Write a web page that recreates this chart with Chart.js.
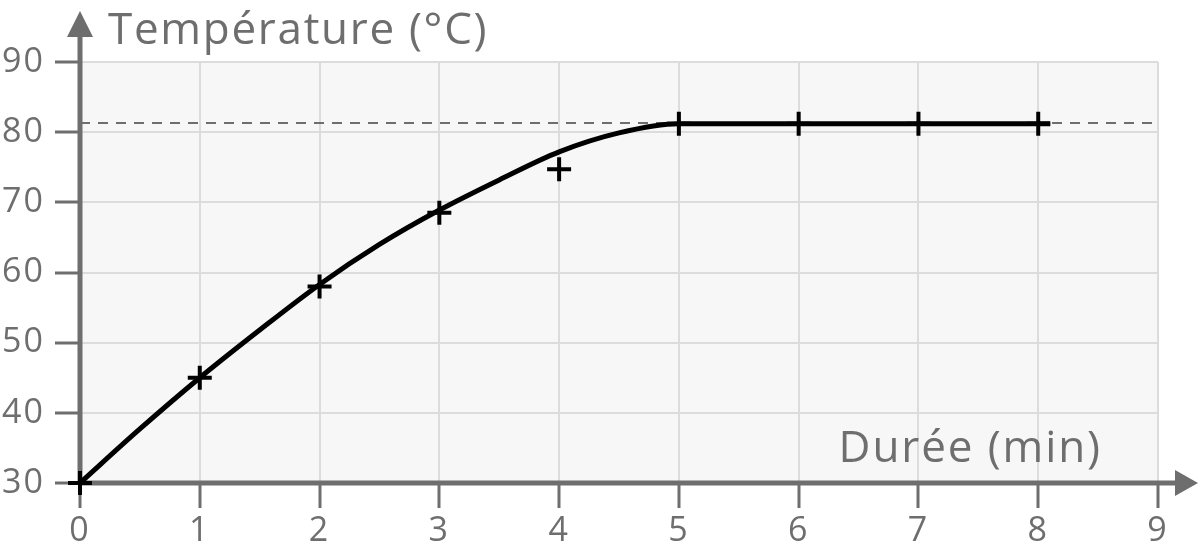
<!DOCTYPE html>
<html>
<head>
<meta charset="utf-8">
<script src="https://cdn.jsdelivr.net/npm/chart.js@4"></script>
<style>
  html, body { margin: 0; padding: 0; background: #fff; }
  #wrap { width: 1200px; height: 556px; position: relative; }
</style>
</head>
<body>
<div id="wrap"><canvas id="tempChart"></canvas></div>
<script>
// measured points (crosses)
const durees = [0, 1, 2, 3, 4, 5, 6, 7, 8];
const temperatures = [30, 45, 58, 68.5, 74.7, 81.2, 81.2, 81.2, 81.2];

// smooth trend curve
const courbeX = [0, 0.5, 1, 1.5, 2, 2.5, 3, 3.5, 4, 4.5, 5, 8.1];
const courbeY = [30, 37.7, 45, 51.8, 58.3, 64, 68.9, 73.2, 77.2, 79.9, 81.2, 81.2];

// plateau (dashed)
const plateauX = [0, 9];
const plateauY = [81.3, 81.3];

const xTicks = [0, 1, 2, 3, 4, 5, 6, 7, 8, 9];
const yTicks = [30, 40, 50, 60, 70, 80, 90];

const GREY = '#6e6e6e';
const FONT = '"Open Sans", "Noto Sans", sans-serif';

const pts = (xs, ys) => xs.map((x, i) => ({ x: x, y: ys[i] }));

// plot background + axes with arrows
const axesPlugin = {
  id: 'axes',
  beforeDraw(chart) {
    const { ctx, chartArea: a } = chart;
    ctx.letterSpacing = '2px'; // the source font is a bit wider
    ctx.save();
    ctx.fillStyle = '#f7f7f7';
    ctx.fillRect(a.left, a.top, a.right - a.left, a.bottom - a.top);
    ctx.restore();
  },
  beforeDatasetsDraw(chart) {
    const { ctx, chartArea: a } = chart;
    ctx.save();
    ctx.strokeStyle = GREY;
    ctx.fillStyle = GREY;
    ctx.lineWidth = 5;
    // y axis
    ctx.beginPath();
    ctx.moveTo(a.left, a.bottom + 2);
    ctx.lineTo(a.left, 36);
    ctx.stroke();
    ctx.beginPath();
    ctx.moveTo(a.left, 11);
    ctx.lineTo(a.left - 13, 37);
    ctx.lineTo(a.left + 13, 37);
    ctx.closePath();
    ctx.fill();
    // x axis
    ctx.beginPath();
    ctx.moveTo(a.left - 2, a.bottom);
    ctx.lineTo(1176, a.bottom);
    ctx.stroke();
    ctx.beginPath();
    ctx.moveTo(1198, a.bottom);
    ctx.lineTo(1175, a.bottom - 13);
    ctx.lineTo(1175, a.bottom + 13);
    ctx.closePath();
    ctx.fill();
    ctx.restore();
  },
  afterDraw(chart) {
    const { ctx } = chart;
    ctx.save();
    ctx.fillStyle = GREY;
    ctx.font = '44px ' + FONT;
    ctx.letterSpacing = '1.7px';
    ctx.textBaseline = 'alphabetic';
    ctx.textAlign = 'left';
    ctx.fillText('Température (°C)', 108, 44);
    ctx.textAlign = 'right';
    ctx.letterSpacing = '1.9px';
    ctx.fillText('Durée (min)', 1102, 462);
    ctx.restore();
  }
};

const ctx = document.getElementById('tempChart').getContext('2d');

new Chart(ctx, {
  type: 'scatter',
  data: {
    datasets: [
      {
        data: pts(plateauX, plateauY),
        showLine: true,
        borderColor: GREY,
        borderWidth: 2,
        borderDash: [10, 8],
        pointRadius: 0,
        order: 3
      },
      {
        data: pts(courbeX, courbeY),
        showLine: true,
        borderColor: '#000',
        borderWidth: 5,
        cubicInterpolationMode: 'monotone',
        pointRadius: 0,
        clip: false,
        order: 2
      },
      {
        data: pts(durees, temperatures),
        pointStyle: 'cross',
        pointRadius: 12,
        pointBorderWidth: 4,
        borderColor: '#000',
        backgroundColor: '#000',
        clip: false,
        order: 1
      }
    ]
  },
  options: {
    responsive: true,
    maintainAspectRatio: false,
    animation: false,
    events: [],
    layout: { padding: { top: 62, right: 42, left: 0, bottom: 0 } },
    plugins: {
      legend: { display: false },
      tooltip: { enabled: false }
    },
    scales: {
      x: {
        type: 'linear',
        min: 0,
        max: 9,
        afterFit: (s) => { s.height = 73; },
        afterBuildTicks: (s) => { s.ticks = xTicks.map(v => ({ value: v })); },
        border: { display: false },
        grid: {
          color: '#dcdcdc',
          lineWidth: 2,
          tickColor: GREY,
          tickWidth: 3,
          tickLength: 25
        },
        ticks: {
          color: GREY,
          font: { family: FONT, size: 34 },
          padding: 3,
          maxRotation: 0
        }
      },
      y: {
        min: 30,
        max: 90,
        afterFit: (s) => { s.width = 80; },
        afterBuildTicks: (s) => { s.ticks = yTicks.map(v => ({ value: v })); },
        border: { display: false },
        grid: {
          color: '#dcdcdc',
          lineWidth: 2,
          tickColor: GREY,
          tickWidth: 3,
          tickLength: 25
        },
        ticks: {
          color: GREY,
          font: { family: FONT, size: 34 },
          padding: 10
        }
      }
    }
  },
  plugins: [axesPlugin]
});
</script>
</body>
</html>
